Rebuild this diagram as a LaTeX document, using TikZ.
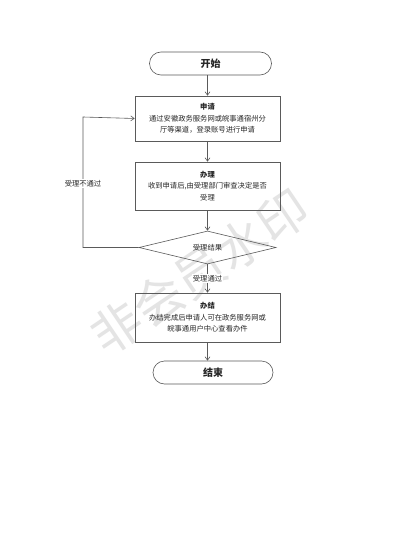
\documentclass[tikz,border=0pt]{standalone}
\usepackage{fontspec}
\setmainfont{Noto Sans CJK SC}
\usetikzlibrary{shapes.geometric,shapes.misc,arrows.meta}
\definecolor{linec}{HTML}{5A5A5A}
\definecolor{wmark}{HTML}{E4E4E4}
\tikzset{
  procbox/.style={draw=linec, line width=0.6pt, rectangle, minimum width=145pt, minimum height=46pt, inner sep=0pt, align=center, font=\fontsize{7.3}{11.6}\selectfont, text=black!85},
  term/.style={draw=linec, line width=0.6pt, rounded rectangle, minimum width=122pt, minimum height=23pt, inner sep=0pt, font=\fontsize{10}{12}\selectfont\bfseries, text=black!85},
  decide/.style={draw=linec, line width=0.6pt, diamond, aspect=4.2, minimum width=137pt, minimum height=33pt, inner sep=0pt, font=\fontsize{7.3}{9}\selectfont, text=black!85},
  arr/.style={draw=linec, line width=0.6pt, -{Straight Barb[length=3.5pt,width=5pt]}},
  lbl/.style={fill=white, inner sep=1pt, font=\fontsize{7.3}{9}\selectfont, text=black!85}
}
\begin{document}
\begin{tikzpicture}[x=1pt,y=-1pt]
\useasboundingbox[fill=white] (0,0) rectangle (407,545);
% watermark
\node[text=wmark, rotate=34, font=\fontsize{50}{52}\selectfont, inner sep=0pt] (wm) at (200,272) {非会员水印};
% nodes
\node[term] (start) at (210.5,63.5) {开始};
\node[procbox, minimum height=45pt] (apply) at (207.5,118.5) {\textbf{申请}\\通过安徽政务服务网或皖事通宿州分\\厅等渠道，登录账号进行申请};
\node[procbox, minimum height=48pt] (handle) at (207.5,186) {\textbf{办理}\\收到申请后,由受理部门审查决定是否\\受理};
\node[decide] (result) at (207.5,247.5) {受理结果};
\node[procbox, minimum height=49pt] (finish) at (207.5,317.5) {\textbf{办结}\\办结完成后申请人可在政务服务网或\\皖事通用户中心查看办件};
\node[term, minimum width=120pt] (stop) at (213,372.5) {结束};
\coordinate (lb) at (83,247.5);
\coordinate (lt) at (83,117);
% connectors
\draw[arr] (apply.north |- start.south) -- (apply.north);
\draw[arr] (apply) -- (handle);
\draw[arr] (handle) -- (result);
\draw[arr] (result) -- (finish) node[lbl, pos=0.5] (pass) {受理通过};
\draw[arr] (finish.south) -- (finish.south |- stop.north);
\draw[arr] (result.west) -- (lb) -- (lt) node[lbl, pos=0.49] (fail) {受理不通过} -- (apply.west);
\end{tikzpicture}
\end{document}
